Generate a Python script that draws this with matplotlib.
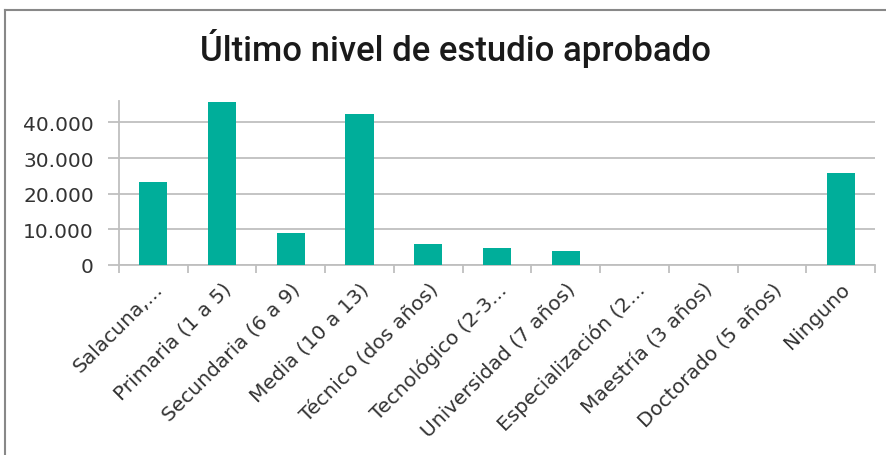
import numpy as np
import matplotlib
matplotlib.use('Agg')
import matplotlib.pyplot as plt
from matplotlib.lines import Line2D
from matplotlib.ticker import FuncFormatter

categories = ["Salacuna,...", "Primaria (1 a 5)", "Secundaria (6 a 9)", "Media (10 a 13)",
              "Técnico (dos años)", "Tecnológico (2-3...", "Universidad (7 años)",
              "Especialización (2...", "Maestría (3 años)", "Doctorado (5 años)", "Ninguno"]
values = [23400, 45800, 9000, 42400, 5900, 4800, 3900, 0, 0, 0, 25800]
yticks = [0, 10000, 20000, 30000, 40000]

barColor = '#00AE9A'
gridColor = '#BFBFBF'

def fmtThousands(v, pos):
    return "{:,.0f}".format(v).replace(",", ".")

def main():
    plt.rcParams['font.family'] = 'DejaVu Sans'
    fig = plt.figure(figsize=(8.87, 4.56), dpi=100)
    ax = fig.add_axes([0.134, 0.4167, 0.8525, 0.3596])
    x = np.arange(len(categories))
    ax.bar(x, values, width=0.41, color=barColor, zorder=3)

    ax.set_xlim(-0.5, len(categories) - 0.5)
    ax.set_ylim(0, 46000)
    ax.set_yticks(yticks)
    ax.yaxis.set_major_formatter(FuncFormatter(fmtThousands))
    ax.grid(axis='y', color=gridColor, linewidth=1.3, zorder=0)

    # category labels sit on minor positions, tick marks on boundaries
    ax.set_xticks(np.arange(len(categories) + 1) - 0.5)
    ax.set_xticklabels([])
    ax.set_xticks(x, minor=True)
    ax.set_xticklabels(categories, minor=True, rotation=45, ha='right',
                       rotation_mode='anchor', fontsize=14.5, color='#333333')
    ax.tick_params(axis='x', which='minor', length=0, pad=10)
    ax.tick_params(axis='x', which='major', length=6, width=1.3, color=gridColor)
    ax.tick_params(axis='y', length=8, width=1.3, color=gridColor, labelsize=14.5,
                   labelcolor='#333333', pad=10)

    for side in ['top', 'right']:
        ax.spines[side].set_visible(False)
    ax.spines['left'].set_color(gridColor)
    ax.spines['left'].set_linewidth(1.3)
    ax.spines['bottom'].set_color(gridColor)
    ax.spines['bottom'].set_linewidth(1.3)

    fig.text(0.513, 0.893, "Último nivel de estudio aprobado", ha='center', va='center',
             fontsize=25, fontweight='medium', family='Roboto', color='#1a1a1a')

    # chart frame (top and left edges only visible)
    fig.add_artist(Line2D([0.0058, 0.0058], [0, 0.976], transform=fig.transFigure,
                          color='#888888', linewidth=1.5))
    fig.add_artist(Line2D([0.0058, 1.0], [0.976, 0.976], transform=fig.transFigure,
                          color='#888888', linewidth=1.5))

    fig.savefig("out.png", dpi=100)

if __name__ == "__main__":
    main()
